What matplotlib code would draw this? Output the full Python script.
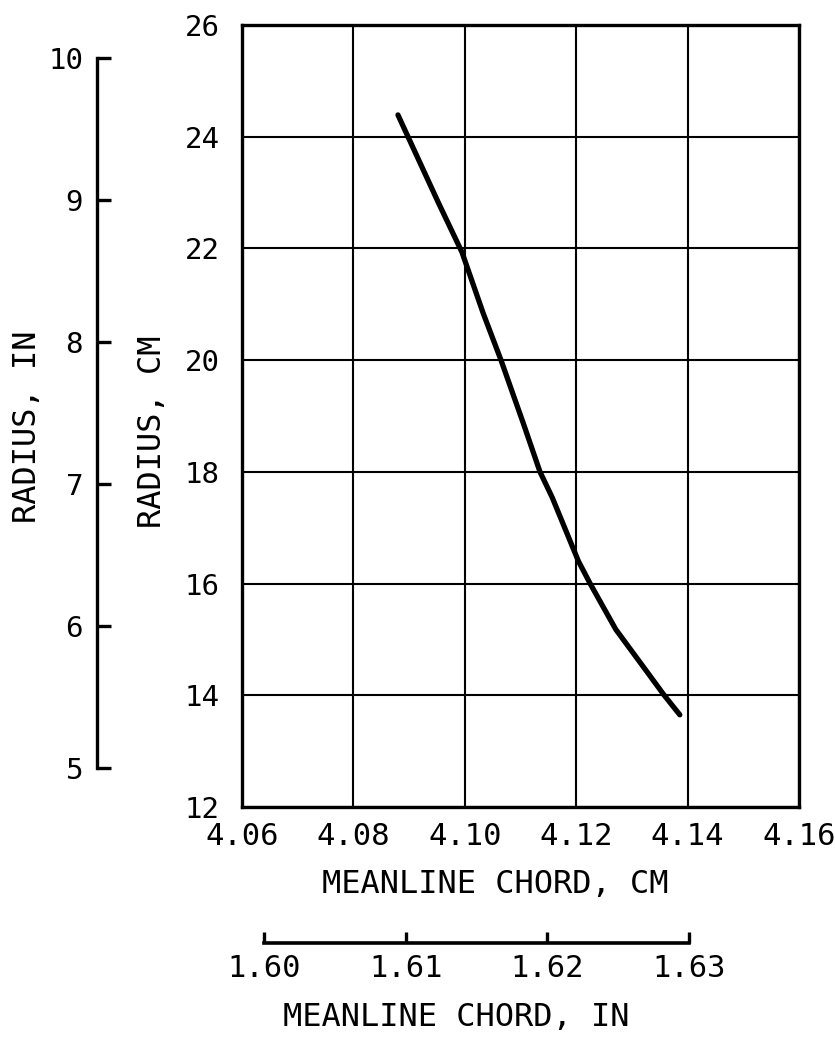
import matplotlib
matplotlib.use('Agg')
import matplotlib.pyplot as plt
import numpy as np

# meanline chord (cm) vs radius (cm)
chord_cm = [4.0880, 4.0898, 4.0953, 4.0995, 4.1033, 4.1065, 4.1105, 4.1135,
            4.1157, 4.1204, 4.1225, 4.1271, 4.1319, 4.1358, 4.1386]
radius_cm = [24.39, 24.00, 22.81, 21.93, 20.84, 20.00, 18.87, 18.00,
             17.54, 16.40, 16.00, 15.18, 14.53, 14.00, 13.65]

x_ticks_cm = [4.06, 4.08, 4.10, 4.12, 4.14, 4.16]
y_ticks_cm = [12, 14, 16, 18, 20, 22, 24, 26]
x_ticks_in = [1.60, 1.61, 1.62, 1.63]
y_ticks_in = [5, 6, 7, 8, 9, 10]

CM_PER_IN = 2.54

plt.rcParams['font.family'] = 'DejaVu Sans Mono'

fig = plt.figure(figsize=(8.35, 10.41), dpi=100)
ax = fig.add_axes([0.2898, 0.2248, 0.6671, 0.7512])

ax.plot(chord_cm, radius_cm, color='black', lw=3.8,
        solid_capstyle='round', solid_joinstyle='round')
ax.set_xlim(x_ticks_cm[0], x_ticks_cm[-1])
ax.set_ylim(y_ticks_cm[0], y_ticks_cm[-1])
ax.set_xticks(x_ticks_cm)
ax.set_xticklabels(['%.2f' % v for v in x_ticks_cm])
ax.set_yticks(y_ticks_cm)
ax.grid(True, color='black', lw=1.5)
ax.tick_params(axis='x', length=0, pad=11, labelsize=22)
ax.tick_params(axis='y', length=0, pad=16, labelsize=21)
for s in ax.spines.values():
    s.set_linewidth(2.4)
ax.set_xlabel('MEANLINE CHORD, CM', fontsize=23)
ax.xaxis.set_label_coords(0.454, -0.079)
ax.set_ylabel('RADIUS, CM', fontsize=23)
ax.yaxis.set_label_coords(-0.133, 0.48)

# inch scale on the left
ay = ax.twinx()
ay.set_ylim(y_ticks_cm[0] / CM_PER_IN, y_ticks_cm[-1] / CM_PER_IN)
ay.yaxis.set_ticks_position('left')
ay.yaxis.set_label_position('left')
for k in ['right', 'top', 'bottom']:
    ay.spines[k].set_visible(False)
ay.spines['left'].set_position(('axes', -0.2603))
ay.spines['left'].set_bounds(y_ticks_in[0], y_ticks_in[-1])
ay.spines['left'].set_linewidth(2.4)
ay.set_yticks(y_ticks_in)
ay.tick_params(axis='y', direction='in', length=10, width=2.4, pad=10, labelsize=21)
ay.set_ylabel('RADIUS, IN', fontsize=23)
ay.yaxis.set_label_coords(-0.358, 0.486)

# inch scale at the bottom
axi = ax.twiny()
axi.set_xlim(x_ticks_cm[0] / CM_PER_IN, x_ticks_cm[-1] / CM_PER_IN)
axi.xaxis.set_ticks_position('bottom')
axi.xaxis.set_label_position('bottom')
for k in ['right', 'top', 'left']:
    axi.spines[k].set_visible(False)
axi.spines['bottom'].set_position(('axes', -0.1739))
axi.spines['bottom'].set_bounds(x_ticks_in[0], x_ticks_in[-1])
axi.spines['bottom'].set_linewidth(2.6)
axi.set_xticks(x_ticks_in)
axi.set_xticklabels(['%.2f' % v for v in x_ticks_in])
axi.tick_params(axis='x', direction='in', length=8, width=2.4, pad=8, labelsize=22)
axi.set_xlabel('MEANLINE CHORD, IN', fontsize=23)
axi.xaxis.set_label_coords(0.384, -0.25)

fig.savefig('out.png', dpi=100)
